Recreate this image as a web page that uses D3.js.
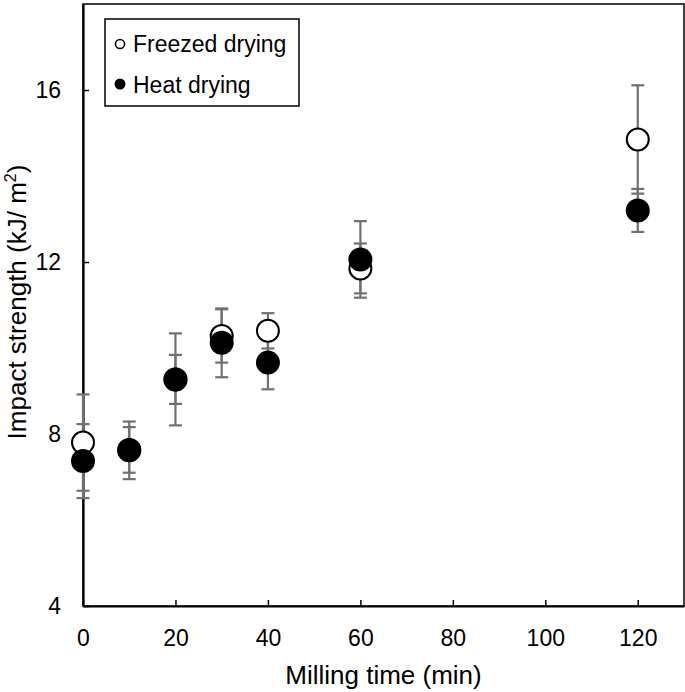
<!DOCTYPE html>
<html>
<head>
<meta charset="utf-8">
<script src="https://cdn.jsdelivr.net/npm/d3@7"></script>
<style>
  body { margin: 0; background: #fff; }
  svg text { font-family: "Liberation Sans", Arial, sans-serif; fill: #000; }
</style>
</head>
<body>
<svg id="chart" width="685" height="692"></svg>
<script>
// ---- data ----
const millingTime = [0, 10, 20, 30, 40, 60, 120];
const freezedMean = [7.80, 7.62, 9.27, 10.28, 10.40, 11.85, 14.85];
const freezedErr  = [1.12, 0.67, 1.07, 0.62, 0.41, 0.58, 1.26];
const heatMean    = [7.37, 7.63, 9.27, 10.12, 9.66, 12.06, 13.20];
const heatErr     = [0.86, 0.53, 0.57, 0.80, 0.62, 0.89, 0.50];
const xTicks = [0, 20, 40, 60, 80, 100, 120];
const yTicks = [4, 8, 12, 16];
const seriesNames = ["Freezed drying", "Heat drying"];

(function () {
const svg = d3.select("#chart");
const pL = 83, pR = 684, pT = 4, pB = 606;
const x = d3.scaleLinear().domain([0, 130]).range([pL, pR]);
const y = d3.scaleLinear().domain([4, 18]).range([pB, pT]);

// frame (top & right)
svg.append("rect")
  .attr("x", pL).attr("y", pT)
  .attr("width", pR - pL).attr("height", pB - pT)
  .attr("fill", "none").attr("stroke", "#000").attr("stroke-width", 1.5);

// axes
const xAxis = d3.axisBottom(x).tickValues(xTicks).tickSizeInner(-6).tickSizeOuter(0).tickPadding(24);
const gx = svg.append("g").attr("transform", `translate(0,${pB})`).call(xAxis);
gx.select(".domain").attr("stroke", "#000").attr("stroke-width", 2.2);
gx.selectAll(".tick line").attr("stroke", "#000").attr("stroke-width", 1.5);
gx.selectAll(".tick text").attr("font-size", 23).attr("dy", 0).attr("y", 40)
  .style("font-family", "'Liberation Sans', Arial, sans-serif");

const yAxis = d3.axisLeft(y).tickValues(yTicks).tickSizeInner(-6).tickSizeOuter(0).tickPadding(22);
const gy = svg.append("g").attr("transform", `translate(${pL},0)`).call(yAxis);
gy.select(".domain").attr("stroke", "#000").attr("stroke-width", 2.2);
gy.selectAll(".tick line").attr("stroke", "#000").attr("stroke-width", 1.5);
gy.selectAll(".tick text").attr("font-size", 23).attr("x", -22)
  .style("font-family", "'Liberation Sans', Arial, sans-serif");

// axis titles
svg.append("text")
  .attr("x", (pL + pR) / 2).attr("y", 684)
  .attr("text-anchor", "middle").attr("font-size", 26)
  .text("Milling time (min)");

const yt = svg.append("text")
  .attr("transform", `translate(26,302) rotate(-90)`)
  .attr("text-anchor", "middle").attr("font-size", 26);
yt.append("tspan").text("Impact strength (kJ/ m");
yt.append("tspan").attr("font-size", 16).attr("dy", -10).text("2");
yt.append("tspan").attr("dy", 10).text(")");

// data
const freezed = millingTime.map((t, i) => ({ t, m: freezedMean[i], e: freezedErr[i] }));
const heat = millingTime.map((t, i) => ({ t, m: heatMean[i], e: heatErr[i] }));

const errColor = "#707070";
const capW = 6.5;
function drawErr(data) {
  const g = svg.append("g").attr("stroke", errColor).attr("stroke-width", 2.2);
  data.forEach(d => {
    const cx = x(d.t), y1 = y(d.m + d.e), y2 = y(d.m - d.e);
    g.append("line").attr("x1", cx).attr("x2", cx).attr("y1", y1).attr("y2", y2);
    g.append("line").attr("x1", cx - capW).attr("x2", cx + capW).attr("y1", y1).attr("y2", y1);
    g.append("line").attr("x1", cx - capW).attr("x2", cx + capW).attr("y1", y2).attr("y2", y2);
  });
}
drawErr(freezed);
drawErr(heat);

svg.append("g").selectAll("circle").data(freezed).join("circle")
  .attr("cx", d => x(d.t)).attr("cy", d => y(d.m)).attr("r", 11)
  .attr("fill", "#fff").attr("stroke", "#000").attr("stroke-width", 2);

svg.append("g").selectAll("circle").data(heat).join("circle")
  .attr("cx", d => x(d.t)).attr("cy", d => y(d.m)).attr("r", 12)
  .attr("fill", "#000");

// legend
const lg = svg.append("g");
lg.append("rect").attr("x", 105).attr("y", 19).attr("width", 194).attr("height", 87)
  .attr("fill", "#fff").attr("stroke", "#000").attr("stroke-width", 1.5);
lg.append("circle").attr("cx", 120).attr("cy", 44).attr("r", 4.5)
  .attr("fill", "#fff").attr("stroke", "#000").attr("stroke-width", 1.5);
lg.append("circle").attr("cx", 120).attr("cy", 84).attr("r", 5.5).attr("fill", "#000");
lg.append("text").attr("x", 133).attr("y", 52).attr("font-size", 23).text(seriesNames[0]);
lg.append("text").attr("x", 133).attr("y", 93).attr("font-size", 23).text(seriesNames[1]);
})();
</script>
</body>
</html>
